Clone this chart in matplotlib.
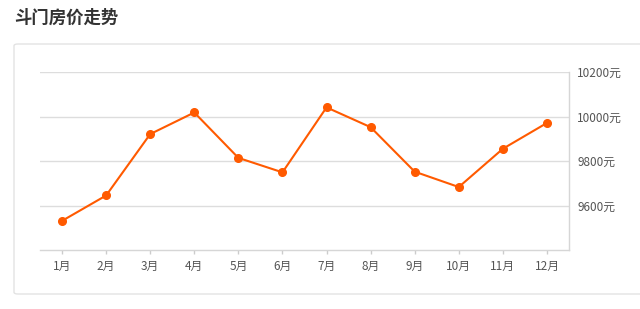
import matplotlib.pyplot as plt
from matplotlib.patches import FancyBboxPatch

plt.rcParams['font.family'] = ['Noto Sans CJK SC', 'DejaVu Sans']

# data
months = ['1月', '2月', '3月', '4月', '5月', '6月', '7月', '8月', '9月', '10月', '11月', '12月']
prices = [9531, 9645, 9921, 10018, 9814, 9749, 10041, 9952, 9752, 9683, 9855, 9971]
yticks = [9600, 9800, 10000, 10200]
title = '斗门房价走势'

line_color = '#ff5a00'
grid_color = '#dddddd'
text_color = '#555555'

fig = plt.figure(figsize=(6.4, 3.09), dpi=100)

# panel box behind the chart (drawn under the axes)
panel = FancyBboxPatch((14 / 640, 1 - 294 / 309), 700 / 640, 250 / 309,
                       boxstyle='round,pad=0,rounding_size=0.006',
                       transform=fig.transFigure, facecolor='white',
                       edgecolor='#e3e3e3', linewidth=1.0, zorder=-1)
fig.patches.append(panel)

fig.text(14 / 640, 1 - 18 / 309, title, fontsize=12.5, fontweight='bold',
         color='#333333', va='center', ha='left')

ax = fig.add_axes([40 / 640, 1 - 250 / 309, 529 / 640, 178 / 309])
ax.set_facecolor('none')

x = range(len(months))
ax.plot(x, prices, color=line_color, linewidth=1.5, marker='o',
        markersize=5.5, zorder=3, clip_on=False)

ax.set_xlim(-0.5, len(months) - 0.5)
ax.set_ylim(9400, 10200)
ax.set_xticks(list(x))
ax.set_xticklabels(months)
ax.set_yticks(yticks)
ax.set_yticklabels([f'{v}元' for v in yticks])
ax.yaxis.tick_right()
ax.grid(axis='y', color=grid_color, linewidth=1.0)

for side in ['top', 'left']:
    ax.spines[side].set_visible(False)
for side in ['bottom', 'right']:
    ax.spines[side].set_color('#d6d6d6')
    ax.spines[side].set_linewidth(1.0)

ax.tick_params(axis='x', colors='#cccccc', length=3, width=1, labelsize=8.5,
               labelcolor=text_color, pad=4)
ax.tick_params(axis='y', length=0, labelsize=8.5, labelcolor=text_color, pad=6)

fig.savefig('out.png', dpi=100)
